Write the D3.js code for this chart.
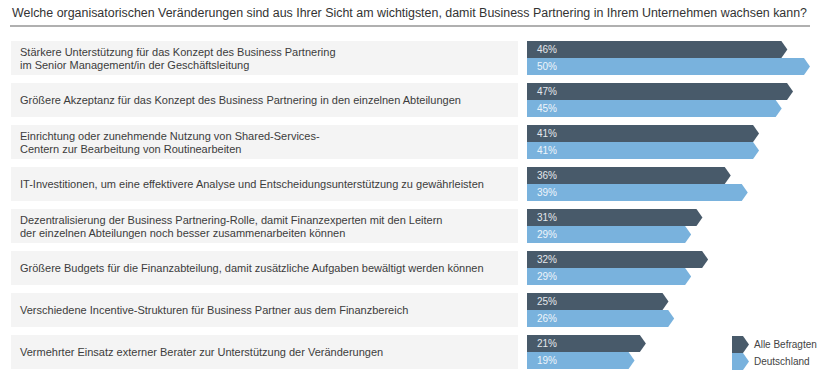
<!DOCTYPE html>
<html>
<head>
<meta charset="utf-8">
<script src="https://cdn.jsdelivr.net/npm/d3@7"></script>
<style>
  body { margin: 0; background: #fff; }
  text { font-family: "Liberation Sans", Arial, sans-serif; }
</style>
</head>
<body>
<div id="chart"></div>
<script>
const title = "Welche organisatorischen Veränderungen sind aus Ihrer Sicht am wichtigsten, damit Business Partnering in Ihrem Unternehmen wachsen kann?";

const categories = [
  ["Stärkere Unterstützung für das Konzept des Business Partnering", "im Senior Management/in der Geschäftsleitung"],
  ["Größere Akzeptanz für das Konzept des Business Partnering in den einzelnen Abteilungen"],
  ["Einrichtung oder zunehmende Nutzung von Shared-Services-", "Centern zur Bearbeitung von Routinearbeiten"],
  ["IT-Investitionen, um eine effektivere Analyse und Entscheidungsunterstützung zu gewährleisten"],
  ["Dezentralisierung der Business Partnering-Rolle, damit Finanzexperten mit den Leitern", "der einzelnen Abteilungen noch besser zusammenarbeiten können"],
  ["Größere Budgets für die Finanzabteilung, damit zusätzliche Aufgaben bewältigt werden können"],
  ["Verschiedene Incentive-Strukturen für Business Partner aus dem Finanzbereich"],
  ["Vermehrter Einsatz externer Berater zur Unterstützung der Veränderungen"]
];

const seriesNames = ["Alle Befragten", "Deutschland"];
const alleBefragten = [46, 47, 41, 36, 31, 32, 25, 21];
const deutschland = [50, 45, 41, 39, 29, 29, 26, 19];

const colors = ["#485a6a", "#79b2dd"];
const labelColors = ["#e4e8ec", "#eef5fb"];

const W = 820, H = 375;
const svg = d3.select("#chart").append("svg")
  .attr("width", W).attr("height", H);

// title + rule
svg.append("text")
  .attr("x", 12).attr("y", 17)
  .attr("textLength", 795).attr("lengthAdjust", "spacingAndGlyphs")
  .style("font-size", "12px").style("fill", "#333")
  .text(title);

svg.append("line")
  .attr("x1", 10).attr("x2", 810).attr("y1", 26).attr("y2", 26)
  .attr("stroke", "#b0b0b0").attr("stroke-width", 2);

const y = d3.scaleBand()
  .domain(d3.range(categories.length))
  .range([41, 369])
  .paddingInner(8 / 42)
  .paddingOuter(0);

const barX0 = 527;
const x = d3.scaleLinear().domain([0, 50]).range([0, 283]);
const tip = 6;

function arrow(x0, y0, w, h) {
  return `M${x0},${y0}H${x0 + w - tip}L${x0 + w},${y0 + h / 2}L${x0 + w - tip},${y0 + h}H${x0}Z`;
}

const rows = svg.selectAll("g.row")
  .data(categories.map((c, i) => ({ lines: c, vals: [alleBefragten[i], deutschland[i]], i })))
  .join("g").attr("class", "row")
  .attr("transform", d => `translate(0,${y(d.i)})`);

// label box
rows.append("rect")
  .attr("x", 11).attr("width", 507)
  .attr("height", y.bandwidth())
  .attr("fill", "#f4f4f4");

rows.append("text")
  .attr("x", 20)
  .style("font-size", "11px").style("fill", "#3c3c3c")
  .each(function(d) {
    const n = d.lines.length;
    const mid = y.bandwidth() / 2;
    d3.select(this).selectAll("tspan")
      .data(d.lines).join("tspan")
      .attr("x", 20)
      .attr("y", (l, j) => mid + (j - (n - 1) / 2) * 13 + 4)
      .text(l => l);
  });

// bars
const bh = y.bandwidth() / 2;
rows.each(function(d) {
  const g = d3.select(this);
  d.vals.forEach((v, s) => {
    g.append("path")
      .attr("d", arrow(barX0, s * bh, x(v), bh))
      .attr("fill", colors[s]);
    g.append("text")
      .attr("x", barX0 + 10)
      .attr("y", s * bh + bh / 2 + 3.5)
      .style("font-size", "10px")
      .style("fill", labelColors[s])
      .text(v + "%");
  });
});

// legend
const lg = svg.append("g").attr("transform", "translate(732,336)");
seriesNames.forEach((name, s) => {
  lg.append("path")
    .attr("d", arrow(0, s * 17, 17, 17))
    .attr("fill", colors[s]);
  lg.append("text")
    .attr("x", 22).attr("y", s * 17 + 12)
    .style("font-size", "10px").style("fill", "#444")
    .text(name);
});
</script>
</body>
</html>
